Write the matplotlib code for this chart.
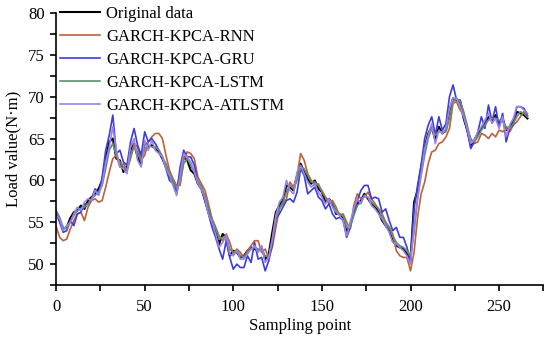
import numpy as np
import matplotlib
matplotlib.use("Agg")
import matplotlib.pyplot as plt
from matplotlib.ticker import MultipleLocator

# sampling points read every 2nd point off the figure
sample_step = 2

original = [
    56.0, 55.2, 54.2, 54.4, 55.5, 56.2, 56.4, 57.0, 56.6, 57.6,
    58.0, 58.4, 59.0, 60.0, 62.6, 64.6, 65.0, 62.6, 62.4, 61.0,
    61.6, 63.6, 64.4, 62.8, 62.0, 64.6, 64.0, 64.2, 63.8, 63.4,
    62.6, 61.6, 60.4, 59.8, 58.6, 60.6, 62.8, 62.4, 61.2, 60.8,
    59.6, 59.0, 57.6, 56.2, 54.8, 53.8, 52.4, 53.6, 53.2, 51.0,
    51.6, 51.4, 50.8, 51.0, 51.6, 52.0, 51.8, 51.6, 52.0, 50.6,
    51.2, 53.8, 56.2, 57.0, 57.6, 59.4, 59.2, 58.8, 60.6, 62.0,
    61.0, 60.2, 59.6, 60.0, 59.0, 58.6, 57.4, 57.8, 57.2, 56.0,
    56.0, 55.4, 53.8, 54.8, 56.2, 57.2, 57.6, 58.4, 57.8, 57.2,
    56.8, 56.2, 55.2, 54.6, 54.0, 52.8, 52.2, 52.0, 51.8, 51.2,
    50.4, 57.4, 58.8, 61.6, 64.0, 65.6, 66.4, 64.8, 66.4, 65.6,
    66.0, 68.4, 69.8, 69.6, 69.4, 67.4, 66.0, 64.2, 64.8, 65.6,
    66.2, 66.8, 67.6, 67.2, 67.8, 66.8, 67.4, 66.0, 66.4, 67.0,
    68.2, 68.0, 67.8, 67.4,
]

rnn = [
    54.5, 53.2, 52.8, 53.0, 54.2, 55.2, 56.0, 56.2, 55.2, 56.8,
    57.6, 57.8, 57.4, 57.6, 59.2, 61.0, 62.6, 63.0, 61.6, 62.0,
    61.2, 62.6, 64.4, 64.0, 62.4, 63.0, 64.6, 65.2, 65.6, 65.6,
    65.0, 63.0, 61.2, 60.2, 59.4, 59.4, 62.4, 63.4, 63.2, 62.6,
    60.4, 59.6, 58.8, 57.2, 55.4, 54.4, 53.4, 52.8, 53.6, 52.6,
    51.2, 51.8, 51.4, 50.8, 51.6, 52.2, 52.8, 52.8, 51.4, 51.8,
    50.8, 52.0, 54.4, 56.6, 57.2, 57.8, 59.8, 59.2, 60.6, 63.2,
    62.4, 60.8, 60.0, 59.4, 59.6, 58.6, 58.0, 57.2, 57.6, 56.8,
    55.8, 56.0, 55.0, 54.2, 57.0, 58.4, 57.8, 58.0, 58.6, 57.8,
    57.2, 56.6, 56.0, 55.0, 54.4, 53.6, 51.6, 51.0, 50.8, 50.8,
    49.2, 51.4, 55.6, 58.4, 59.8, 62.0, 63.4, 63.6, 64.4, 64.6,
    65.2, 66.2, 69.2, 69.4, 68.4, 67.8, 66.2, 65.0, 64.4, 64.6,
    65.6, 65.4, 65.0, 65.6, 65.2, 66.0, 65.8, 66.2, 65.8, 66.6,
    67.0, 67.6, 68.2, 67.6,
]

gru = [
    56.2, 55.0, 53.8, 54.0, 55.2, 54.6, 56.0, 56.2, 57.2, 57.2,
    57.8, 59.0, 58.4, 60.4, 63.6, 65.4, 67.8, 63.2, 63.6, 62.2,
    61.8, 64.6, 66.2, 64.2, 63.0, 65.8, 64.6, 65.0, 64.4, 63.6,
    62.8, 61.4, 60.0, 59.6, 58.4, 61.6, 63.6, 62.8, 62.8, 61.8,
    59.8, 59.2, 57.6, 56.0, 54.4, 53.2, 51.8, 50.6, 52.8, 50.8,
    49.4, 50.0, 49.6, 49.6, 51.0, 50.2, 52.6, 50.6, 50.8, 49.2,
    50.4, 52.4, 55.4, 56.0, 56.8, 57.6, 57.8, 57.4, 58.6, 61.4,
    60.6, 58.4, 58.8, 59.2, 58.0, 57.6, 56.6, 57.2, 56.0, 55.4,
    55.6, 55.2, 53.2, 54.4, 56.4, 57.6, 58.8, 59.4, 59.4, 57.8,
    58.0, 57.8, 56.2, 56.6, 55.2, 54.0, 54.4, 53.2, 53.2, 52.0,
    50.4, 56.6, 59.4, 61.8, 65.0, 66.6, 67.6, 65.4, 67.6, 66.0,
    66.8, 70.0, 71.4, 69.6, 69.6, 68.0, 66.0, 63.8, 64.6, 65.8,
    67.6, 66.2, 69.0, 67.0, 68.8, 66.4, 68.0, 64.6, 66.2, 66.6,
    68.8, 68.8, 68.6, 67.8,
]

lstm = [
    56.4, 55.6, 54.4, 54.2, 55.0, 55.8, 56.4, 56.6, 56.8, 57.2,
    57.8, 58.2, 58.6, 59.4, 61.4, 63.6, 64.4, 63.0, 62.2, 61.6,
    61.2, 62.8, 64.0, 63.4, 62.2, 63.8, 64.2, 64.0, 64.0, 63.6,
    62.8, 62.0, 60.8, 60.0, 59.0, 59.8, 62.0, 62.6, 61.8, 61.0,
    60.0, 59.2, 58.2, 56.8, 55.4, 54.4, 53.0, 53.2, 53.4, 51.8,
    51.4, 51.6, 51.0, 50.8, 51.4, 51.8, 52.0, 51.8, 51.6, 51.0,
    50.8, 52.8, 55.4, 56.6, 57.4, 58.6, 59.4, 59.0, 60.0, 61.6,
    61.4, 60.6, 59.8, 59.8, 59.4, 58.8, 58.0, 57.6, 57.4, 56.4,
    56.0, 55.8, 54.4, 54.4, 55.8, 57.0, 57.4, 58.2, 58.0, 57.4,
    57.0, 56.6, 55.6, 55.0, 54.4, 53.4, 52.6, 52.2, 52.0, 51.6,
    51.0, 53.8, 57.8, 60.6, 63.0, 65.0, 66.2, 65.4, 65.8, 65.8,
    65.8, 67.4, 69.4, 69.8, 69.4, 68.2, 66.6, 64.8, 64.6, 65.2,
    66.0, 66.6, 67.2, 67.4, 67.4, 67.2, 67.0, 66.4, 66.2, 66.8,
    67.6, 68.2, 68.0, 67.6,
]

atlstm = [
    55.8, 55.4, 54.0, 54.6, 55.0, 56.0, 56.8, 56.4, 57.4, 57.8,
    57.6, 58.8, 58.2, 59.6, 62.2, 64.0, 66.4, 63.6, 61.6, 61.4,
    60.8, 64.0, 65.0, 62.4, 61.6, 64.8, 63.6, 64.8, 63.6, 63.2,
    62.8, 61.4, 60.6, 59.4, 58.2, 60.6, 63.2, 62.8, 62.2, 61.0,
    59.6, 59.0, 57.8, 56.0, 55.0, 53.6, 52.0, 52.6, 53.4, 51.2,
    51.0, 51.6, 50.6, 50.6, 51.2, 51.8, 52.2, 51.4, 52.2, 50.2,
    50.8, 53.0, 55.8, 57.4, 58.0, 60.0, 58.8, 58.4, 61.0, 61.8,
    60.8, 59.8, 59.2, 59.6, 58.6, 58.0, 57.2, 57.8, 56.8, 56.2,
    55.8, 55.2, 53.4, 55.0, 56.6, 57.8, 57.2, 58.2, 58.0, 57.0,
    56.6, 56.0, 55.4, 54.6, 53.8, 52.6, 52.4, 52.0, 51.6, 51.0,
    50.0, 54.4, 58.0, 60.8, 63.8, 65.4, 66.8, 64.4, 66.0, 65.6,
    66.2, 68.6, 69.8, 69.8, 68.8, 67.6, 66.2, 64.4, 64.8, 65.8,
    66.4, 67.2, 68.0, 66.8, 67.4, 66.2, 67.6, 65.2, 66.6, 67.4,
    68.8, 68.8, 68.4, 68.0,
]

labels = ["Original data", "GARCH-KPCA-RNN", "GARCH-KPCA-GRU",
          "GARCH-KPCA-LSTM", "GARCH-KPCA-ATLSTM"]
colors = ["black", "#c0603a", "#3c3cdc", "#5e9068", "#9b80f0"]

x = np.arange(len(original)) * sample_step

plt.rcParams["font.family"] = ["Liberation Serif", "DejaVu Serif"]
plt.rcParams["font.size"] = 12

fig = plt.figure(figsize=(5.5, 3.39), dpi=100)
ax = fig.add_axes([0.102, 0.159, 0.886, 0.803])

series = [original, rnn, gru, lstm, atlstm]
for ys, lab, col in zip(series, labels, colors):
    lw = 1.5 if col == "black" else 1.2
    ax.plot(x, ys, color=col, lw=lw, label=lab)

ax.set_xlim(0, 275)
ax.set_ylim(47.5, 80)
ax.xaxis.set_major_locator(MultipleLocator(50))
ax.xaxis.set_minor_locator(MultipleLocator(25))
ax.yaxis.set_major_locator(MultipleLocator(5))
ax.yaxis.set_minor_locator(MultipleLocator(2.5))
ax.tick_params(which="both", direction="out", length=4, width=1.2)
ax.tick_params(axis="x", which="both", pad=6)
ax.tick_params(axis="y", which="both", pad=4)
for side in ["left", "bottom"]:
    ax.spines[side].set_linewidth(1.2)
ax.spines["top"].set_visible(False)
ax.spines["right"].set_visible(False)

ax.set_xlabel("Sampling point", labelpad=2)
ax.set_ylabel("Load value(N·m)", labelpad=5)

ax.legend(loc="upper left", bbox_to_anchor=(-0.005, 1.05), frameon=False,
          handlelength=2.4, handletextpad=0.35, labelspacing=0.42,
          borderaxespad=0.0)

plt.savefig("out.png", dpi=100)
